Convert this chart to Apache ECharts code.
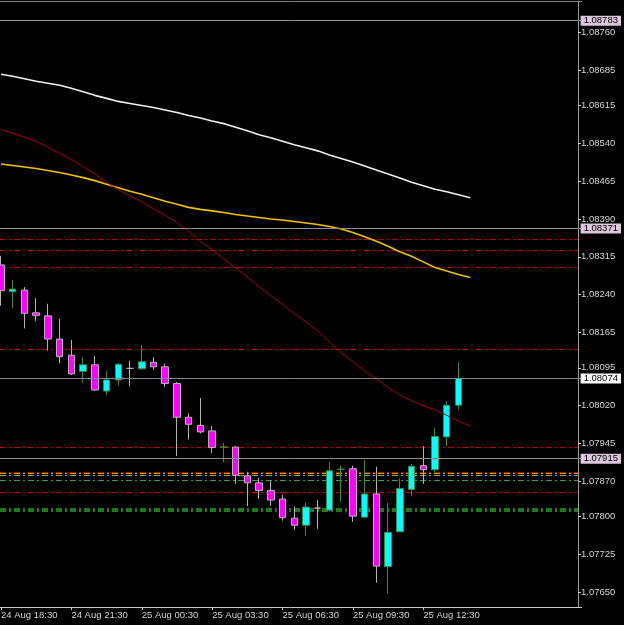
<!DOCTYPE html>
<html><head><meta charset="utf-8">
<script src="https://cdn.jsdelivr.net/npm/echarts@6/dist/echarts.min.js"></script>
<style>html,body{margin:0;padding:0;background:#000;}#c{width:624px;height:625px;}</style>
</head><body><div id="c"></div>
<script>
// ---- data ----
const candleTimes = [
 '24 Aug 18:30','24 Aug 19:00','24 Aug 19:30','24 Aug 20:00','24 Aug 20:30','24 Aug 21:00','24 Aug 21:30','24 Aug 22:00','24 Aug 22:30','24 Aug 23:00','24 Aug 23:30',
 '25 Aug 00:00','25 Aug 00:30','25 Aug 01:00','25 Aug 01:30','25 Aug 02:00','25 Aug 02:30','25 Aug 03:00','25 Aug 03:30','25 Aug 04:00','25 Aug 04:30',
 '25 Aug 05:00','25 Aug 05:30','25 Aug 06:00','25 Aug 06:30','25 Aug 07:00','25 Aug 07:30','25 Aug 08:00','25 Aug 08:30','25 Aug 09:00','25 Aug 09:30',
 '25 Aug 10:00','25 Aug 10:30','25 Aug 11:00','25 Aug 11:30','25 Aug 12:00','25 Aug 12:30','25 Aug 13:00','25 Aug 13:30','25 Aug 14:00'
];
const openPrices  = [1.08299,1.08246,1.08249,1.08204,1.08198,1.08152,1.08120,1.08088,1.08101,1.08049,1.08071,1.08094,1.08093,1.08106,1.08097,1.08064,1.07997,1.07981,1.07970,1.07938,1.07938,1.07881,1.07867,1.07852,1.07835,1.07797,1.07783,1.07817,1.07813,1.07894,1.07895,1.07799,1.07845,1.07701,1.07770,1.07854,1.07901,1.07893,1.07958,1.08021];
const closePrices = [1.08248,1.08251,1.08203,1.08199,1.08152,1.08117,1.08083,1.08101,1.08051,1.08071,1.08102,1.08094,1.08107,1.08097,1.08064,1.07997,1.07983,1.07968,1.07937,1.07938,1.07882,1.07867,1.07852,1.07833,1.07798,1.07783,1.07819,1.07817,1.07891,1.07894,1.07801,1.07845,1.07702,1.07769,1.07856,1.07900,1.07893,1.07959,1.08021,1.08074];
const lowPrices   = [1.08218,1.08213,1.08173,1.08188,1.08129,1.08104,1.08081,1.08066,1.08049,1.08041,1.08060,1.08058,1.08092,1.08091,1.08057,1.07920,1.07953,1.07965,1.07926,1.07908,1.07865,1.07821,1.07835,1.07822,1.07792,1.07774,1.07762,1.07776,1.07810,1.07830,1.07790,1.07798,1.07669,1.07648,1.07770,1.07840,1.07865,1.07886,1.07940,1.08012];
const highPrices  = [1.08317,1.08269,1.08255,1.08233,1.08222,1.08192,1.08150,1.08116,1.08119,1.08089,1.08105,1.08109,1.08140,1.08116,1.08103,1.08067,1.08005,1.08035,1.07980,1.07946,1.07939,1.07889,1.07877,1.07871,1.07843,1.07820,1.07828,1.07833,1.07908,1.07901,1.07901,1.07912,1.07899,1.07827,1.07876,1.07905,1.07940,1.07976,1.08029,1.08106];

// moving averages (shifted one bar forward, 41 values)
const maWhite = [1.08677,1.08673,1.08668,1.08663,1.08659,1.08655,1.08649,1.08642,1.08635,1.08629,1.08623,1.08619,1.08615,1.08611,1.08606,1.08601,1.08595,1.08590,1.08584,1.08579,1.08572,1.08565,1.08557,1.08551,1.08544,1.08537,1.08531,1.08525,1.08517,1.08510,1.08503,1.08495,1.08487,1.08479,1.08471,1.08463,1.08456,1.08449,1.08444,1.08438,1.08432];
const maGold  = [1.08499,1.08496,1.08493,1.08490,1.08486,1.08482,1.08477,1.08472,1.08466,1.08459,1.08452,1.08445,1.08439,1.08432,1.08425,1.08419,1.08413,1.08409,1.08406,1.08403,1.08399,1.08396,1.08393,1.08390,1.08388,1.08385,1.08382,1.08379,1.08375,1.08370,1.08363,1.08355,1.08346,1.08336,1.08325,1.08316,1.08305,1.08294,1.08287,1.08280,1.08274];
const maRed   = [1.08567,1.08560,1.08552,1.08544,1.08532,1.08520,1.08508,1.08494,1.08479,1.08463,1.08448,1.08436,1.08424,1.08410,1.08397,1.08383,1.08365,1.08346,1.08329,1.08311,1.08293,1.08275,1.08256,1.08238,1.08221,1.08203,1.08186,1.08168,1.08146,1.08125,1.08107,1.08089,1.08073,1.08056,1.08041,1.08030,1.08020,1.08012,1.08001,1.07989,1.07980];

// horizontal levels
const priceLevels = [1.08783, 1.08371, 1.07915];
const lastPrice = [1.08074];
const redLevels = [1.08350, 1.08327, 1.08294, 1.08131, 1.07938, 1.07888, 1.07848];
const goldLevels = [1.07886];
const oliveLevels = [1.07882];
const greenLevels = [1.07872];
const darkGreenLevels = [1.07815, 1.07811];

// axis ticks
const yTicks = [1.07650,1.07725,1.07800,1.07870,1.07945,1.08020,1.08095,1.08165,1.08240,1.08315,1.08390,1.08465,1.08540,1.08615,1.08685,1.08760];
const xTickLabels = ['24 Aug 18:30','24 Aug 21:30','25 Aug 00:30','25 Aug 03:30','25 Aug 06:30','25 Aug 09:30','25 Aug 12:30'];

// ---- chart ----
const SLOTS = 50;
const cats = candleTimes.slice();
cats.push('25 Aug 14:30');
while (cats.length < SLOTS) cats.push('slot' + cats.length);
const slotW = 11.73;
const gridLeft = 1 - slotW / 2;
const gridRight = 624 - (gridLeft + SLOTS * slotW);
const axisX = 578;
const yOffset = axisX - (gridLeft + SLOTS * slotW);

const FONT = 'Liberation Sans, Arial, sans-serif';
const showTick = (idx, val) => xTickLabels.indexOf(val) >= 0;
const DASHDOT = [6, 3, 2, 3];

// crisp horizontal dash-dot level lines, positioned through the y scale
function levelSeries(values, color, width) {
  return {
    type: 'custom', z: 1, silent: true, clip: false,
    data: values.map(v => [0, v]),
    encode: { x: 0, y: 1 },
    renderItem: function (params, api) {
      const raw = api.coord([0, api.value(1)])[1];
      const y = width % 2 === 1 ? Math.round(raw - 0.5) + 0.5 : Math.round(raw);
      const cs = params.coordSys;
      return {
        type: 'line',
        shape: { x1: Math.max(cs.x, 0), y1: y, x2: axisX, y2: y },
        style: { stroke: color, lineWidth: width, lineDash: DASHDOT, fill: null }
      };
    }
  };
}

const labelBase = { show: true, position: 'end', distance: -1, fontSize: 9.5, fontFamily: FONT, color: '#000', padding: [1, 3, 0, 3], lineHeight: 9, formatter: p => Number(p.value).toFixed(5) };
const priceData = [].concat(
  priceLevels.map(v => ({ yAxis: v, lineStyle: { color: '#8c8c8c', width: 1, type: 'solid' }, label: Object.assign({}, labelBase, { backgroundColor: '#dcc8dc' }) })),
  lastPrice.map(v => ({ yAxis: v, lineStyle: { color: '#778899', width: 1, type: 'solid' }, label: Object.assign({}, labelBase, { backgroundColor: '#ffffff' }) }))
);

const option = {
  backgroundColor: '#000000',
  animation: false,
  grid: { left: gridLeft, right: gridRight, top: 1, bottom: 18, containLabel: false, outerBoundsMode: 'none' },
  xAxis: [{
    type: 'category', data: cats, boundaryGap: true,
    axisLine: { show: true, lineStyle: { color: '#c8c8c8', width: 1 } },
    axisTick: { show: true, alignWithLabel: true, interval: showTick, length: 3, lineStyle: { color: '#c8c8c8' } },
    axisLabel: { show: true, interval: showTick, align: 'left', color: '#d2d2d2', fontSize: 9.5, fontFamily: FONT, margin: 3 },
    splitLine: { show: false }
  }, {
    type: 'category', data: cats, position: 'top', boundaryGap: true,
    axisLine: { show: true, lineStyle: { color: '#808080', width: 1 } },
    axisTick: { show: false }, axisLabel: { show: false }, splitLine: { show: false }
  }],
  yAxis: {
    type: 'value', position: 'right', offset: yOffset,
    min: 1.07621, max: 1.08822, scale: true,
    splitLine: { show: false },
    axisLine: { show: true, lineStyle: { color: '#9a9a9a', width: 1 } },
    axisTick: { show: true, length: 3, customValues: yTicks, lineStyle: { color: '#c8c8c8' } },
    axisLabel: { show: true, customValues: yTicks, color: '#d2d2d2', fontSize: 9.5, fontFamily: FONT, margin: 3, formatter: v => Number(v).toFixed(5) }
  },
  series: [
    levelSeries(redLevels, '#c00000', 1),
    levelSeries(goldLevels, '#d8a800', 1),
    levelSeries(oliveLevels, '#86b030', 1),
    levelSeries(greenLevels, '#32a832', 1),
    levelSeries(darkGreenLevels, '#1f7a1f', 2),
    {
      type: 'candlestick', z: 3, barWidth: 7,
      data: openPrices.map((o, i) => [o, closePrices[i], lowPrices[i], highPrices[i]]),
      itemStyle: { color: '#00ffff', color0: '#ff00ff', borderColor: '#3c8c3c', borderColor0: '#b4b4b4', borderWidth: 1 }
    },
    { type: 'line', z: 4, data: maWhite, symbol: 'none', lineStyle: { color: '#f0f0f0', width: 1.6 }, silent: true },
    { type: 'line', z: 4, data: maGold, symbol: 'none', lineStyle: { color: '#f2c200', width: 1.6 }, silent: true },
    { type: 'line', z: 4, data: maRed, symbol: 'none', lineStyle: { color: '#b00000', width: 1 }, silent: true },
    {
      type: 'line', data: [], z: 5, silent: true,
      markLine: { silent: true, symbol: 'none', precision: 5, z: 5, animation: false, data: priceData }
    }
  ]
};
const chart = echarts.init(document.getElementById('c'));
chart.setOption(option);
</script>
</body></html>
